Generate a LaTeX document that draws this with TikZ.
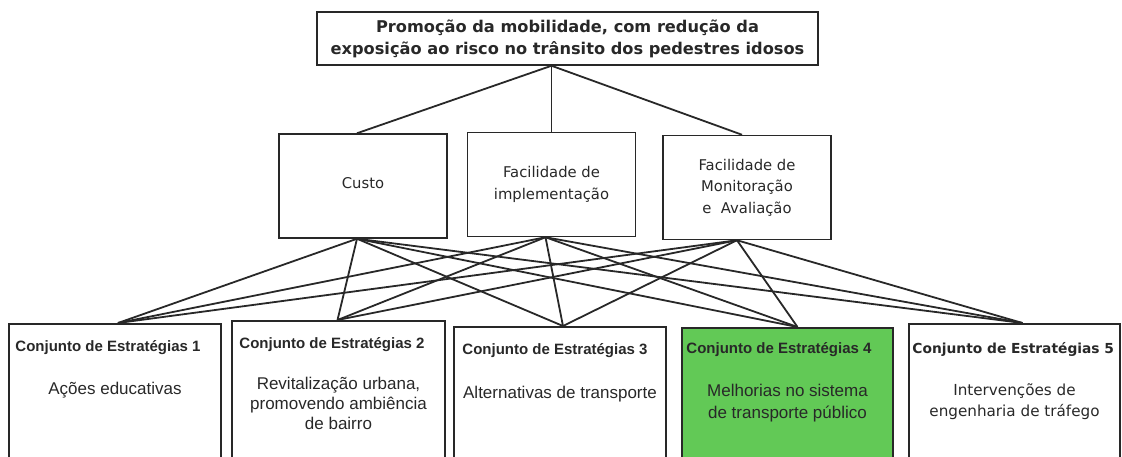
\documentclass[tikz,border=0pt]{standalone}
\usepackage{fontspec}
\setmainfont{Liberation Sans}
\newfontfamily\humfont{DejaVu Sans}
\usepackage{tikz}
\definecolor{boxgreen}{RGB}{98,201,86}
\definecolor{inkgray}{RGB}{40,40,40}
\tikzset{
  goalbox/.style={draw, line width=1.5pt, minimum width=501pt, minimum height=53pt, align=center, font=\humfont\bfseries\fontsize{16.2}{22}\selectfont},
  critbox/.style={draw, line width=1.5pt, minimum width=168pt, minimum height=104pt, align=center, font=\humfont\fontsize{14.8}{21.5}\selectfont},
  setbox/.style={draw, line width=1.5pt, minimum width=212pt, minimum height=150pt, anchor=north},
  settitle/.style={anchor=west, inner sep=0pt, font=\bfseries\fontsize{15}{18}\selectfont},
  setbody/.style={anchor=base, align=center, inner sep=0pt, font=\fontsize{17}{21}\selectfont},
  link/.style={line width=1.8pt},
}

\begin{document}
\begin{tikzpicture}[x=1pt, y=-1pt, color=inkgray]
		%%%%% START %%%%%
		\useasboundingbox (0,0) rectangle (1122,456);
		
		\node[goalbox] (goal) at (567.5,38.5) {Promoção da mobilidade, com redução da\\exposição ao risco no trânsito dos pedestres idosos};
		
		\node[critbox] (cost) at (363,186) {\raisebox{6pt}{Custo}};
		\node[critbox] (impl) at (551.5,184.5) {Facilidade de\\implementação};
		\node[critbox] (monit) at (747,187.5) {Facilidade de\\Monitoração\\e~~Avaliação};
		
		\node[setbox] (set1) at (115,323) {};
		\node[setbox, minimum width=213pt] (set2) at (338.5,320) {};
		\node[setbox] (set3) at (560,326) {};
		\node[setbox, minimum width=211pt, fill=boxgreen] (set4) at (787.5,327) {};
		\node[setbox, minimum width=211pt] (set5) at (1014.5,323) {};
		
		\node[settitle] (title1) at ([xshift=7pt,yshift=-25pt]set1.north west) {Conjunto de Estratégias 1};
		\node[settitle] (title2) at ([xshift=8pt,yshift=-25pt]set2.north west) {Conjunto de Estratégias 2};
		\node[settitle] (title3) at ([xshift=9pt,yshift=-25pt]set3.north west) {Conjunto de Estratégias 3};
		\node[settitle] (title4) at ([xshift=5pt,yshift=-23pt]set4.north west) {Conjunto de Estratégias 4};
		\node[settitle, font=\humfont\bfseries\fontsize{13.8}{18}\selectfont] (title5) at ([xshift=4pt,yshift=-26pt]set5.north west) {Conjunto de Estratégias 5};
		
		\node[setbody] (body1) at ([yshift=-71pt]set1.north) {Ações educativas};
		\node[setbody, font=\fontsize{17}{20}\selectfont] (body2) at ([yshift=-109pt]set2.north) {Revitalização urbana,\\promovendo ambiência\\de bairro};
		\node[setbody] (body3) at ([yshift=-72pt]set3.north) {Alternativas de transporte};
		\node[setbody, font=\fontsize{17}{22}\selectfont] (body4) at ([yshift=-91pt]set4.north) {Melhorias no sistema\\de transporte público};
		\node[setbody, font=\humfont\fontsize{15.2}{21}\selectfont] (body5) at ([yshift=-93pt]set5.north) {Intervenções de\\engenharia de tráfego};
		
		% where the links meet the boxes
		\coordinate (hub) at (goal.south -| impl.north);
		\coordinate (out1) at ([xshift=-6pt]cost.south);
		\coordinate (out2) at ([xshift=-6pt]impl.south);
		\coordinate (out3) at ([xshift=-10pt]monit.south);
		\coordinate (in1) at ([xshift=3pt]set1.north);
		\coordinate (in2) at ([xshift=-1pt]set2.north);
		\coordinate (in3) at ([xshift=3pt]set3.north);
		\coordinate (in4) at ([xshift=10pt]set4.north);
		\coordinate (in5) at ([xshift=8pt]set5.north);
		
		\draw[link] (hub) -- ([xshift=-6pt]cost.north);
		\draw[link] (hub) -- (hub |- impl.north);
		\draw[link] (hub) -- ([xshift=-5pt]monit.north);
		
		\draw[link] (out1) -- (in1);
		\draw[link] (out1) -- (in2);
		\draw[link] (out1) -- (in3);
		\draw[link] (out1) -- (in4);
		\draw[link] (out1) -- (in5);
		
		\draw[link] (out2) -- (in1);
		\draw[link] (out2) -- (in2);
		\draw[link] (out2) -- (in3);
		\draw[link] (out2) -- (in4);
		\draw[link] (out2) -- (in5);
		
		\draw[link] (out3) -- (in1);
		\draw[link] (out3) -- (in2);
		\draw[link] (out3) -- (in3);
		\draw[link] (out3) -- (in4);
		\draw[link] (out3) -- (in5);
		
		%%%%% END %%%%%
\end{tikzpicture}
\end{document}
